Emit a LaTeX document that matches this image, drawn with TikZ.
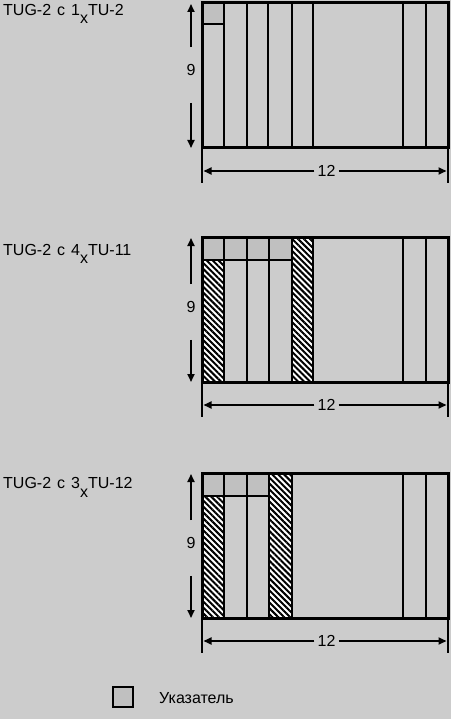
\documentclass[tikz,border=0pt]{standalone}
\usepackage{fontspec}
\setmainfont{Liberation Sans}
\usetikzlibrary{arrows.meta, patterns.meta}
\definecolor{bggray}{RGB}{204,204,204}
\definecolor{ptrgray}{RGB}{192,192,192}
\tikzstyle{frame} = [line width=3pt]
\tikzstyle{sep} = [line width=2.5pt]
\tikzstyle{ptr} = [fill=ptrgray]
\tikzstyle{hatch} = [fill=white, postaction={pattern={Lines[angle=-45,distance=4.2pt,line width=2pt]}}]
\tikzstyle{dim} = [line width=1.8pt, -{Triangle[length=8pt,width=7pt]}]
\tikzstyle{lbl} = [inner sep=0pt, font=\fontsize{16}{19}\selectfont]
\tikzstyle{title} = [anchor=base west, inner sep=0pt, font=\fontsize{16}{19}\selectfont]
\newcommand{\subx}{\raisebox{-8.5pt}{x}}
\newcommand{\gap}{\hspace{6pt}}

\begin{document}
\begin{tikzpicture}[x=1pt, y=-1pt]
  \useasboundingbox (0,0) rectangle (451,719);
  \fill[bggray] (0,0) rectangle (451,719);

  % TUG-2 with 1 x TU-2
  \node[title] (t1) at (3,15.5) {TUG-2\gap с\gap 1\subx TU-2};
  \begin{scope}[shift={(0,3)}]
    \fill[ptr] (202,0) rectangle (224,21);
    \draw[sep] (202,21) -- (224,21);
    \foreach \x in {224,247,268,292,313,403,426}
      \draw[sep] (\x,0) -- (\x,145);
    \draw[frame] (202,0) rectangle (448,145);
    \draw[sep] (202,145) -- (202,180) (448,145) -- (448,180);
    \coordinate (v1top) at (191,1);
    \coordinate (v1bot) at (191,145);
    \node[lbl] (v1) at (191,67) {9};
    \draw[dim, shorten <=17pt] (v1) -- (v1top);
    \draw[dim, shorten <=27pt] (v1) -- (v1bot);
    \coordinate (h1l) at (203.5,168);
    \coordinate (h1r) at (446.5,168);
    \node[lbl, inner xsep=3pt] (h1) at (326.5,168) {12};
    \draw[dim] (h1) -- (h1l);
    \draw[dim] (h1) -- (h1r);
  \end{scope}

  % TUG-2 with 4 x TU-11
  \node[title] (t2) at (3,255) {TUG-2\gap с\gap 4\subx TU-11};
  \begin{scope}[shift={(0,237)}]
    \foreach \a/\b in {202/224,224/247,247/269,269/292}
      \fill[ptr] (\a,0) rectangle (\b,23);
    \fill[hatch] (202,23) rectangle (224,145);
    \fill[hatch] (292,0) rectangle (313,145);
    \draw[sep] (202,23) -- (292,23);
    \foreach \x in {224,247,269,292,313,403,426}
      \draw[sep] (\x,0) -- (\x,145);
    \draw[frame] (202,0) rectangle (448,145);
    \draw[sep] (202,145) -- (202,180) (448,145) -- (448,180);
    \coordinate (v2top) at (191,1);
    \coordinate (v2bot) at (191,145);
    \node[lbl] (v2) at (191,70) {9};
    \draw[dim, shorten <=17pt] (v2) -- (v2top);
    \draw[dim, shorten <=27pt] (v2) -- (v2bot);
    \coordinate (h2l) at (203.5,168);
    \coordinate (h2r) at (446.5,168);
    \node[lbl, inner xsep=3pt] (h2) at (326.5,168) {12};
    \draw[dim] (h2) -- (h2l);
    \draw[dim] (h2) -- (h2r);
  \end{scope}

  % TUG-2 with 3 x TU-12
  \node[title] (t3) at (3,488.5) {TUG-2\gap с\gap 3\subx TU-12};
  \begin{scope}[shift={(0,473)}]
    \foreach \a/\b in {202/224,224/247,247/269}
      \fill[ptr] (\a,0) rectangle (\b,23);
    \fill[hatch] (202,23) rectangle (224,145);
    \fill[hatch] (269,0) rectangle (292,145);
    \draw[sep] (202,23) -- (269,23);
    \foreach \x in {224,247,269,292,403,426}
      \draw[sep] (\x,0) -- (\x,145);
    \draw[frame] (202,0) rectangle (448,145);
    \draw[sep] (202,145) -- (202,180) (448,145) -- (448,180);
    \coordinate (v3top) at (191,1);
    \coordinate (v3bot) at (191,145);
    \node[lbl] (v3) at (191,70) {9};
    \draw[dim, shorten <=17pt] (v3) -- (v3top);
    \draw[dim, shorten <=27pt] (v3) -- (v3bot);
    \coordinate (h3l) at (203.5,168);
    \coordinate (h3r) at (446.5,168);
    \node[lbl, inner xsep=3pt] (h3) at (326.5,168) {12};
    \draw[dim] (h3) -- (h3l);
    \draw[dim] (h3) -- (h3r);
  \end{scope}

  % legend
  \node[draw, line width=2.5pt, fill=ptrgray, minimum size=20pt, inner sep=0pt] (key) at (123,697) {};
  \node[lbl, anchor=west] (keytext) at (159,698) {Указатель};
\end{tikzpicture}
\end{document}
